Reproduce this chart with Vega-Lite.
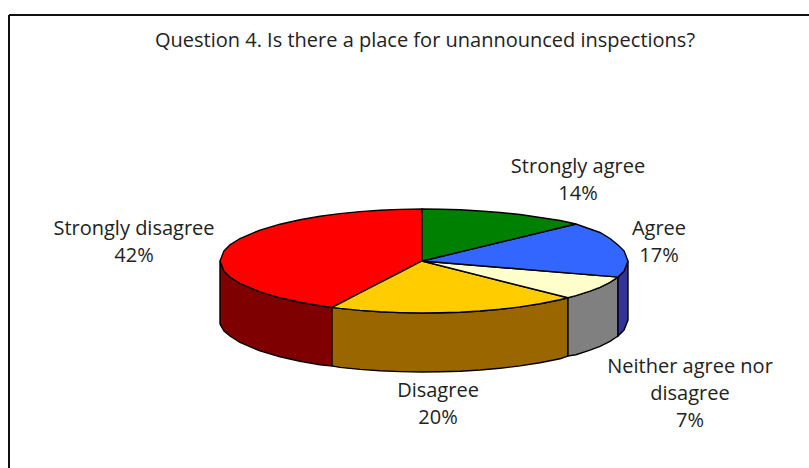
{"$schema":"https://vega.github.io/schema/vega-lite/v6.json","width":809,"height":468,"padding":0,"autosize":{"type":"none"},"background":"#ffffff","view":{"stroke":null},
"datasets":{"faces":[
{"part":"Strongly disagree side","x":220,"y":261,"y2":324},{"part":"Strongly disagree side","x":224,"y":271.2,"y2":331},{"part":"Strongly disagree side","x":230,"y":277.1,"y2":336},{"part":"Strongly disagree side","x":240,"y":283.5,"y2":342.5},{"part":"Strongly disagree side","x":260,"y":291.9,"y2":350.9},{"part":"Strongly disagree side","x":280,"y":297.8,"y2":356.8},{"part":"Strongly disagree side","x":300,"y":302.3,"y2":361.3},{"part":"Strongly disagree side","x":320,"y":305.7,"y2":364.7},{"part":"Strongly disagree side","x":332,"y":307.4,"y2":366},
{"part":"Disagree side","x":332,"y":307.4,"y2":366},{"part":"Disagree side","x":340,"y":308.4,"y2":367.4},{"part":"Disagree side","x":360,"y":310.4,"y2":369.4},{"part":"Disagree side","x":380,"y":311.8,"y2":370.8},{"part":"Disagree side","x":400,"y":312.6,"y2":371.6},{"part":"Disagree side","x":422,"y":313,"y2":372},{"part":"Disagree side","x":440,"y":312.8,"y2":371.8},{"part":"Disagree side","x":460,"y":312.2,"y2":371.2},{"part":"Disagree side","x":480,"y":311,"y2":370},{"part":"Disagree side","x":500,"y":309.3,"y2":368.3},{"part":"Disagree side","x":520,"y":306.9,"y2":365.9},{"part":"Disagree side","x":540,"y":303.8,"y2":362.8},{"part":"Disagree side","x":560,"y":299.8,"y2":358.8},{"part":"Disagree side","x":568,"y":297.8,"y2":356},
{"part":"Neither side","x":568,"y":297.8,"y2":356},{"part":"Neither side","x":576,"y":295.7,"y2":354.7},{"part":"Neither side","x":590,"y":291.2,"y2":350.2},{"part":"Neither side","x":600,"y":287.3,"y2":346.3},{"part":"Neither side","x":610,"y":282.4,"y2":341.4},{"part":"Neither side","x":618,"y":277.1,"y2":336},
{"part":"Agree side","x":618,"y":277.1,"y2":336},{"part":"Agree side","x":624,"y":271.2,"y2":330},{"part":"Agree side","x":628,"y":261,"y2":320},
{"part":"Strongly disagree","x":220,"y":261,"y2":261},{"part":"Strongly disagree","x":224,"y":250.8,"y2":271.2},{"part":"Strongly disagree","x":230,"y":244.9,"y2":277.1},{"part":"Strongly disagree","x":240,"y":238.5,"y2":283.5},{"part":"Strongly disagree","x":260,"y":230.1,"y2":291.9},{"part":"Strongly disagree","x":280,"y":224.2,"y2":297.8},{"part":"Strongly disagree","x":300,"y":219.7,"y2":302.3},{"part":"Strongly disagree","x":320,"y":216.3,"y2":305.7},{"part":"Strongly disagree","x":332,"y":214.6,"y2":307.4},{"part":"Strongly disagree","x":340,"y":213.6,"y2":303.3},{"part":"Strongly disagree","x":360,"y":211.6,"y2":293},{"part":"Strongly disagree","x":380,"y":210.2,"y2":282.7},{"part":"Strongly disagree","x":400,"y":209.4,"y2":272.3},{"part":"Strongly disagree","x":422,"y":209,"y2":261},
{"part":"Disagree","x":332,"y":307.4,"y2":307.4},{"part":"Disagree","x":340,"y":303.3,"y2":308.4},{"part":"Disagree","x":360,"y":293,"y2":310.4},{"part":"Disagree","x":380,"y":282.7,"y2":311.8},{"part":"Disagree","x":400,"y":272.3,"y2":312.6},{"part":"Disagree","x":422,"y":261,"y2":313},{"part":"Disagree","x":440,"y":265.5,"y2":312.8},{"part":"Disagree","x":460,"y":270.6,"y2":312.2},{"part":"Disagree","x":480,"y":275.6,"y2":311},{"part":"Disagree","x":500,"y":280.7,"y2":309.3},{"part":"Disagree","x":520,"y":285.7,"y2":306.9},{"part":"Disagree","x":540,"y":290.7,"y2":303.8},{"part":"Disagree","x":560,"y":295.8,"y2":299.8},{"part":"Disagree","x":568,"y":297.8,"y2":297.8},
{"part":"Neither","x":422,"y":261,"y2":261},{"part":"Neither","x":568,"y":273,"y2":297.8},{"part":"Neither","x":576,"y":273.6,"y2":295.7},{"part":"Neither","x":590,"y":274.8,"y2":291.2},{"part":"Neither","x":600,"y":275.6,"y2":287.3},{"part":"Neither","x":610,"y":276.4,"y2":282.4},{"part":"Neither","x":618,"y":277.1,"y2":277.1},
{"part":"Agree","x":422,"y":261,"y2":261},{"part":"Agree","x":576,"y":224,"y2":273.6},{"part":"Agree","x":590,"y":229,"y2":274.8},{"part":"Agree","x":600,"y":232.5,"y2":275.6},{"part":"Agree","x":610,"y":238.5,"y2":276.4},{"part":"Agree","x":618,"y":245,"y2":277.1},{"part":"Agree","x":624,"y":250.8,"y2":271.2},{"part":"Agree","x":628,"y":261,"y2":261},
{"part":"Strongly agree","x":422,"y":209,"y2":261},{"part":"Strongly agree","x":440,"y":209.2,"y2":256.7},{"part":"Strongly agree","x":460,"y":209.8,"y2":251.9},{"part":"Strongly agree","x":480,"y":211,"y2":247.1},{"part":"Strongly agree","x":500,"y":212.5,"y2":242.3},{"part":"Strongly agree","x":520,"y":214.5,"y2":237.5},{"part":"Strongly agree","x":540,"y":217.5,"y2":232.6},{"part":"Strongly agree","x":560,"y":220.5,"y2":227.8},{"part":"Strongly agree","x":576,"y":224,"y2":224}
],
"labels":[
{"label":"Question 4. Is there a place for unannounced inspections?","x":425,"y":41},
{"label":"Strongly agree\n14%","x":578,"y":167},
{"label":"Agree\n17%","x":659,"y":229},
{"label":"Strongly disagree\n42%","x":134,"y":229},
{"label":"Disagree\n20%","x":438,"y":391},
{"label":"Neither agree nor\ndisagree\n7%","x":690,"y":367}
],
"frame":[{"x":9,"y":15,"x2":809,"y2":15},{"x":9,"y":15,"x2":9,"y2":468}]},
"layer":[
{"data":{"name":"frame"},"mark":{"type":"rule","color":"#111111","strokeWidth":2},"encoding":{"x":{"field":"x","type":"quantitative","scale":{"domain":[0,809]},"axis":null},"y":{"field":"y","type":"quantitative","scale":{"domain":[468,0]},"axis":null},"x2":{"field":"x2"},"y2":{"field":"y2"}}},
{"data":{"name":"faces"},"mark":{"type":"area","stroke":"#000000","strokeWidth":1.4,"opacity":1},"encoding":{"x":{"field":"x","type":"quantitative","scale":{"domain":[0,809]},"axis":null},"y":{"field":"y","type":"quantitative","stack":null,"scale":{"domain":[468,0]},"axis":null},"y2":{"field":"y2"},"color":{"field":"part","type":"nominal","legend":null,"scale":{"domain":["Strongly disagree side","Disagree side","Neither side","Agree side","Strongly disagree","Disagree","Neither","Agree","Strongly agree"],"range":["#7f0000","#996600","#808080","#333399","#ff0000","#ffcc00","#ffffcc","#3366ff","#008000"]}}}},
{"data":{"name":"labels"},"mark":{"type":"text","font":"Open Sans","fontSize":20,"color":"#222222","lineBreak":"\n","lineHeight":27,"align":"center","baseline":"middle"},"encoding":{"x":{"field":"x","type":"quantitative","scale":{"domain":[0,809]},"axis":null},"y":{"field":"y","type":"quantitative","scale":{"domain":[468,0]},"axis":null},"text":{"field":"label"}}}
]}
